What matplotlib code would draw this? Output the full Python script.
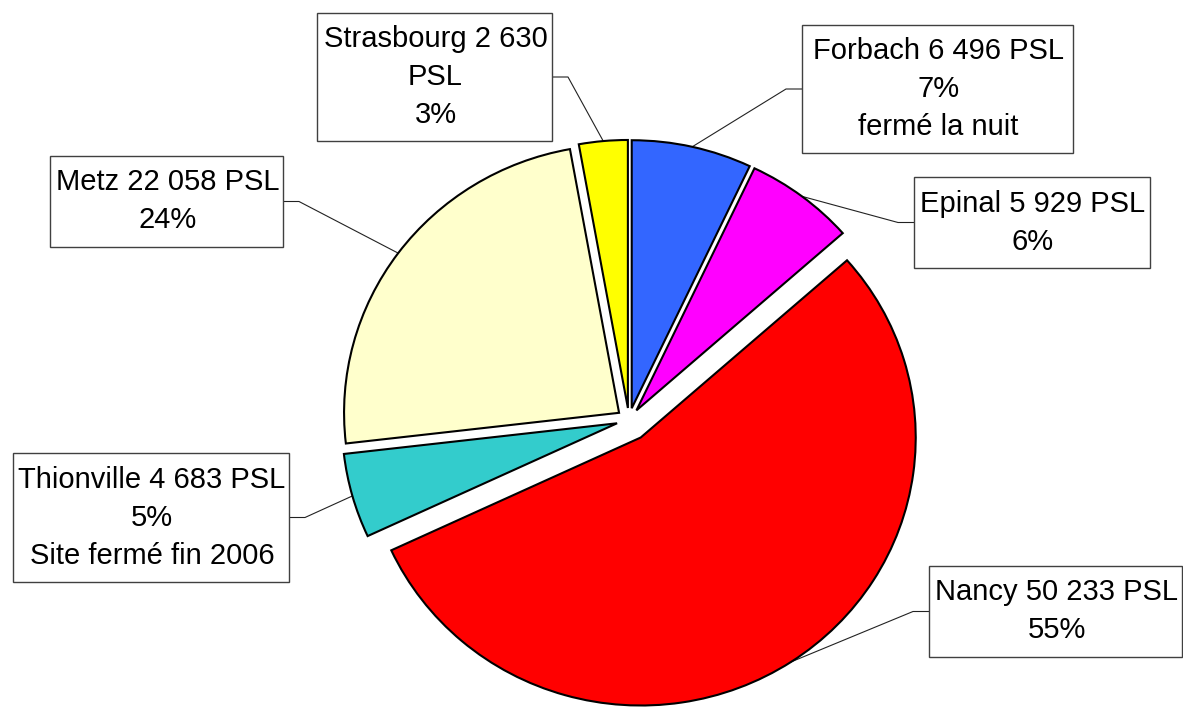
import matplotlib
matplotlib.use('Agg')
import matplotlib.pyplot as plt
from matplotlib.patches import Rectangle
import numpy as np

plt.rcParams['font.family'] = ['Liberation Sans', 'DejaVu Sans']

# data
sites = ['Forbach', 'Epinal', 'Nancy', 'Thionville', 'Metz', 'Strasbourg']
psl = [6496, 5929, 50233, 4683, 22058, 2630]
notes = ['fermé la nuit', '', '', 'Site fermé fin 2006', '', '']
colors = ['#3366FF', '#FF00FF', '#FF0000', '#33CCCC', '#FFFFCC', '#FFFF00']

# layout (pixels): label boxes (x0, y0, x1, y1) and whether "PSL" wraps
boxes = [(802, 25, 1073, 153), (914, 177, 1150, 268), (929, 566, 1182, 657),
         (13, 453, 289, 582), (50, 156, 283, 247), (317, 13, 552, 141)]
wrap_psl = [False, False, False, False, False, True]

W, H = 1183, 708
cx, cy, rx, ry = 629, 420, 275, 268

fig = plt.figure(figsize=(W / 100, H / 100), dpi=100)
ax = fig.add_axes([0, 0, 1, 1])

explode = [0.045] * len(psl)
explode[sites.index('Nancy')] = 0.078
wedges, _ = ax.pie(psl, colors=colors, startangle=90, counterclock=False,
                   explode=explode, radius=1,
                   wedgeprops=dict(edgecolor='black', linewidth=1.5))
ax.set_aspect('auto')
ax.set_position([0, 0, 1, 1])
ax.set_xlim(-cx / rx, (W - cx) / rx)
ax.set_ylim((cy - H) / ry, cy / ry)
ax.axis('off')


def to_data(x, y):
    return (x - cx) / rx, (cy - y) / ry


total = sum(psl)
for w, name, val, note, box, wrap in zip(wedges, sites, psl, notes, boxes, wrap_psl):
    num = f"{val:,}".replace(',', ' ')
    pct = f"{round(val / total * 100)}%"
    if wrap:
        lines = [f"{name} {num}", "PSL", pct]
    else:
        lines = [f"{name} {num} PSL", pct]
    if note:
        lines.append(note)

    x0, y0, x1, y1 = box
    xm, ym = (x0 + x1) / 2, (y0 + y1) / 2

    # leader line: arc midpoint -> elbow -> box edge
    mid = np.deg2rad((w.theta1 + w.theta2) / 2)
    ax_, ay_ = w.center[0] + w.r * np.cos(mid), w.center[1] + w.r * np.sin(mid)
    right = xm > cx
    edge_x = x0 if right else x1
    elbow_x = edge_x - 16 if right else edge_x + 16
    ex, ey = to_data(elbow_x, ym)
    bx, by = to_data(edge_x, ym)
    ax.plot([ax_, ex, bx], [ay_, ey, by], color='#222222', lw=0.8, zorder=0.5)

    ll = to_data(x0, y1)
    ax.add_patch(Rectangle(ll, (x1 - x0) / rx, (y1 - y0) / ry, facecolor='white',
                           edgecolor='#404040', lw=1, zorder=3))
    n = len(lines)
    for i, t in enumerate(lines):
        tx, ty = to_data(xm + 1, ym + (i - (n - 1) / 2) * 38)
        ax.text(tx, ty, t, ha='center', va='center', fontsize=21, zorder=4)

fig.savefig('out.png', dpi=100)
